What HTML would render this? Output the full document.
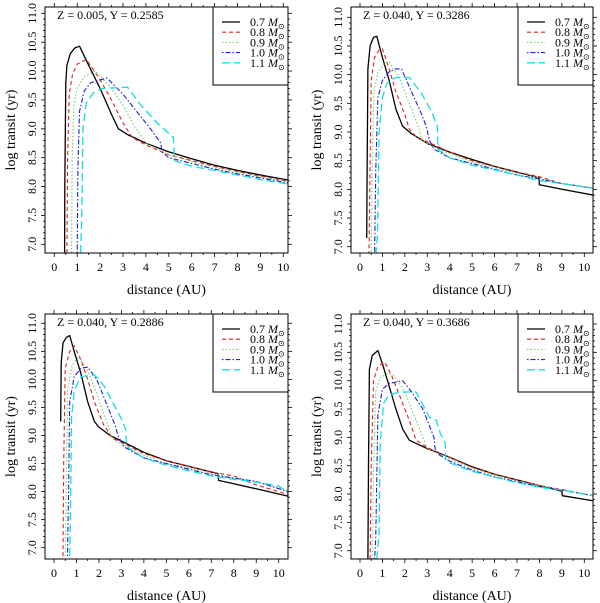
<!DOCTYPE html>
<html><head><meta charset="utf-8"><style>
html,body{margin:0;padding:0;background:#fff;}
svg{display:block;font-family:"Liberation Serif",serif;}
</style></head><body>
<svg id="c" width="600" height="603" viewBox="0 0 600 603" xmlns="http://www.w3.org/2000/svg"></svg>
<script>
const massLabels = ["0.7","0.8","0.9","1.0","1.1"];
const panelTitles = ["Z = 0.005, Y = 0.2585","Z = 0.040, Y = 0.3286","Z = 0.040, Y = 0.2886","Z = 0.040, Y = 0.3686"];
const xTicks = [0,1,2,3,4,5,6,7,8,9,10];
const yTicks = [7.0,7.5,8.0,8.5,9.0,9.5,10.0,10.5,11.0];
const p1m07 = [[0.45,6.85],[0.46,8.0],[0.5,9.8],[0.55,10.1],[0.7,10.3],[0.9,10.4],[1.1,10.43],[1.5,10.1],[2,9.7],[2.5,9.25],[2.8,9.0],[3.2,8.9],[4,8.75],[5,8.6],[6,8.48],[7,8.37],[8,8.28],[9,8.2],[10.4,8.1]];
const p1m08 = [[0.55,6.85],[0.58,8.5],[0.65,9.6],[0.8,9.95],[1.0,10.12],[1.4,10.2],[2,9.85],[2.5,9.5],[3,9.1],[3.4,8.85],[4,8.72],[5,8.55],[6,8.45],[7,8.35],[8,8.26],[9,8.18],[10.4,8.08]];
const p1m09 = [[0.75,6.85],[0.78,8.5],[0.85,9.4],[1.0,9.7],[1.3,9.9],[1.8,10.0],[2.5,9.7],[3,9.4],[3.5,9.05],[4,8.75],[5,8.55],[6,8.43],[7,8.33],[8,8.25],[9,8.17],[10.4,8.07]];
const p1m10 = [[1.0,6.85],[1.03,8.3],[1.1,9.3],[1.3,9.65],[1.6,9.8],[2.3,9.88],[3,9.6],[3.5,9.35],[4.2,9.0],[4.65,8.75],[4.7,8.6],[5,8.5],[6,8.4],[7,8.3],[8,8.22],[9,8.15],[10.4,8.05]];
const p1m11 = [[1.15,6.85],[1.2,7.5],[1.25,9.0],[1.4,9.45],[1.7,9.62],[2.1,9.7],[3.2,9.72],[3.8,9.4],[4.5,9.1],[5.2,8.85],[5.25,8.45],[6,8.35],[7,8.28],[8,8.2],[9,8.12],[10.4,8.03]];
const p2m07 = [[0.3,7.15],[0.32,8.5],[0.35,10.1],[0.45,10.5],[0.6,10.65],[0.75,10.67],[1.0,10.3],[1.3,9.9],[1.6,9.4],[1.9,9.1],[2.3,8.97],[3,8.8],[4,8.65],[5,8.52],[6,8.4],[7,8.3],[7.98,8.2],[8.0,8.08],[9,8.0],[10.4,7.9]];
const p2m08 = [[0.4,6.85],[0.45,8.5],[0.5,9.9],[0.65,10.3],[0.85,10.43],[1.0,10.45],[1.3,10.1],[1.6,9.7],[2,9.3],[2.2,9.05],[2.5,8.92],[3,8.83],[4,8.65],[5,8.5],[6,8.4],[7,8.3],[8,8.22],[9,8.1],[10.4,8.02]];
const p2m09 = [[0.5,6.85],[0.55,8.5],[0.62,9.7],[0.8,10.05],[1.1,10.2],[1.3,10.22],[1.8,9.9],[2.2,9.5],[2.6,9.1],[2.75,8.85],[3,8.8],[4,8.62],[5,8.48],[6,8.38],[7,8.28],[8,8.2],[9,8.1],[10.4,8.02]];
const p2m10 = [[0.65,6.85],[0.7,8.3],[0.8,9.6],[1.0,9.9],[1.3,10.05],[1.6,10.1],[1.85,10.1],[2.3,9.7],[2.7,9.35],[2.95,9.1],[3.1,8.85],[3.3,8.7],[4,8.55],[5,8.45],[6,8.35],[7,8.25],[8,8.18],[9,8.1],[10.4,8.02]];
const p2m11 = [[0.7,6.85],[0.78,7.2],[0.85,9.0],[1.0,9.6],[1.2,9.85],[1.6,9.95],[2.2,9.95],[2.7,9.7],[3.2,9.35],[3.45,9.1],[3.47,8.7],[4,8.55],[5,8.42],[6,8.34],[7,8.25],[8,8.15],[9,8.1],[10.4,8.02]];
const p3m07 = [[0.3,9.25],[0.32,10.3],[0.4,10.65],[0.55,10.75],[0.7,10.78],[0.9,10.5],[1.2,10.1],[1.5,9.6],[1.8,9.25],[2,9.15],[2.5,9.0],[3,8.9],[4,8.7],[5,8.55],[6,8.45],[7,8.35],[7.3,8.32],[7.32,8.2],[8,8.14],[9,8.05],[10.4,7.92]];
const p3m08 = [[0.4,6.85],[0.43,8.5],[0.5,10.2],[0.7,10.5],[0.9,10.6],[1.2,10.35],[1.5,10.0],[1.8,9.6],[2.2,9.2],[2.6,8.95],[3,8.88],[4,8.68],[5,8.55],[6,8.45],[7,8.35],[8,8.28],[9,8.12],[10.4,7.95]];
const p3m09 = [[0.5,6.85],[0.55,8.4],[0.6,9.8],[0.8,10.25],[1.1,10.4],[1.5,10.15],[1.9,9.75],[2.3,9.3],[2.5,9.05],[2.7,8.9],[3,8.85],[4,8.65],[5,8.5],[6,8.42],[7,8.32],[8,8.24],[9,8.18],[10.4,8.02]];
const p3m10 = [[0.6,6.85],[0.65,8.0],[0.7,9.6],[0.9,10.05],[1.2,10.2],[1.5,10.22],[1.9,10.0],[2.3,9.6],[2.7,9.2],[2.85,9.0],[3.1,8.8],[4,8.6],[5,8.5],[6,8.4],[7,8.3],[8,8.24],[9,8.18],[10.4,8.0]];
const p3m11 = [[0.7,6.85],[0.73,7.5],[0.78,9.3],[0.9,9.8],[1.2,10.05],[1.8,10.08],[2.2,9.9],[2.6,9.6],[3.0,9.3],[3.2,9.1],[3.22,8.8],[4,8.6],[5,8.47],[6,8.37],[7,8.28],[8,8.22],[9,8.17],[10,8.1],[10.4,7.98]];
const p4m07 = [[0.35,6.85],[0.38,8.5],[0.42,10.2],[0.55,10.45],[0.8,10.53],[1.0,10.3],[1.3,9.9],[1.6,9.5],[1.9,9.15],[2.2,8.95],[3,8.8],[4,8.65],[5,8.48],[6,8.35],[7,8.25],[8,8.15],[9,8.05],[9.02,7.97],[10.4,7.88]];
const p4m08 = [[0.45,6.85],[0.5,8.5],[0.6,10.0],[0.8,10.25],[1.1,10.33],[1.4,10.1],[1.8,9.7],[2.2,9.3],[2.5,8.95],[3,8.82],[4,8.65],[5,8.47],[6,8.35],[7,8.25],[8,8.15],[9,8.08],[10.4,7.97]];
const p4m09 = [[0.55,6.85],[0.6,8.4],[0.7,9.8],[0.9,10.05],[1.2,10.12],[1.5,10.1],[2.0,9.8],[2.4,9.4],[2.8,9.0],[3.0,8.8],[4,8.62],[5,8.45],[6,8.33],[7,8.23],[8,8.15],[9,8.07],[10.4,7.97]];
const p4m10 = [[0.65,6.85],[0.7,7.2],[0.8,9.4],[1.0,9.85],[1.3,9.95],[1.9,10.0],[2.3,9.8],[2.8,9.5],[3.1,9.2],[3.3,9.0],[3.35,8.8],[3.5,8.7],[4,8.58],[5,8.42],[6,8.3],[7,8.22],[8,8.13],[9,8.07],[10.4,7.97]];
const p4m11 = [[0.75,6.85],[0.85,7.3],[0.9,8.9],[1.05,9.6],[1.3,9.75],[1.8,9.8],[2.5,9.8],[2.9,9.5],[3.1,9.35],[3.4,9.3],[3.6,9.05],[3.8,8.9],[3.82,8.6],[4,8.55],[5,8.4],[6,8.3],[7,8.2],[8,8.12],[9,8.07],[10.4,7.97]];
const panelSeries = [[p1m07,p1m08,p1m09,p1m10,p1m11],[p2m07,p2m08,p2m09,p2m10,p2m11],[p3m07,p3m08,p3m09,p3m10,p3m11],[p4m07,p4m08,p4m09,p4m10,p4m11]];

const NS="http://www.w3.org/2000/svg";
const svg=document.getElementById('c');
const colors=["#000","#e02020","#70d070","#2020d0","#10e0e0"];
const dashes=["","4,3","1.5,2","1.5,2,5,2","8,4"];
const widths=[1.3,1.1,1.1,1.1,1.3];
const geo=[
 {l:45,r:288,t:7,b:253,x0:54.3,x10:283.3,y7:244.3,y11:13.3},
 {l:351,r:593,t:7,b:253,x0:360,x10:584.3,y7:246.7,y11:17.3},
 {l:45,r:288,t:314,b:559,x0:54,x10:278.7,y7:547.7,y11:323.3},
 {l:351,r:593,t:314,b:559,x0:360,x10:584.3,y7:550.7,y11:324}
];
function mk(tag,attrs,parent){const e=document.createElementNS(NS,tag);for(const k in attrs)e.setAttribute(k,attrs[k]);(parent||svg).appendChild(e);return e;}
geo.forEach((g,pi)=>{
 const grp=mk('g',{});
 
 
 const X=v=>g.x0+(g.x10-g.x0)*v/10;
 const Y=v=>g.y7+(g.y11-g.y7)*(v-7)/4;
 const cid='clip'+pi;
 const cp=mk('clipPath',{id:cid},grp);mk('rect',{x:g.l,y:g.t,width:g.r-g.l,height:g.b-g.t},cp);
 const tk=mk('g',{stroke:'#000','stroke-width':0.8},grp);
 
 
 for(let v=0;v<=10.4;v+=0.5){const x=X(v);if(x>g.r)break;const L=(Math.abs(v-Math.round(v))<1e-6)?4:2;
  mk('line',{x1:x,x2:x,y1:g.b,y2:g.b+L},tk);mk('line',{x1:x,x2:x,y1:g.t,y2:g.t-L},tk);}
 for(let v=7;v<=11.01;v+=0.1){const y=Y(v);const maj=Math.abs(v*2-Math.round(v*2))<1e-6;const L=maj?4:2;
  mk('line',{x1:g.l,x2:g.l-L,y1:y,y2:y},tk);mk('line',{x1:g.r,x2:g.r+L,y1:y,y2:y},tk);}
 xTicks.forEach(v=>{const t=mk('text',{x:X(v),y:g.b+18,'font-size':12,'text-anchor':'middle'},grp);t.textContent=v;
  
  });
 yTicks.forEach(v=>{const y=Y(v);const t=mk('text',{x:g.l-9,y:y,'font-size':12,'text-anchor':'middle',transform:`rotate(-90 ${g.l-9} ${y})`},grp);t.textContent=v.toFixed(1);
  
  });
 const xl=mk('text',{x:(g.l+g.r)/2,y:g.b+41,'font-size':14,'text-anchor':'middle'},grp);xl.textContent='distance (AU)';
 
 
 const yc=(g.t+g.b)/2,yx=g.l-30;
 const yl=mk('text',{x:yx,y:yc,'font-size':14,'text-anchor':'middle',transform:`rotate(-90 ${yx} ${yc})`},grp);yl.textContent='log transit (yr)';
 
 
 const sg=mk('g',{'clip-path':`url(#${cid})`,fill:'none'},grp);
 panelSeries[pi].forEach((s,si)=>{
  const p=mk('path',{d:s.map((q,i)=>(i?'L':'M')+X(q[0]).toFixed(1)+','+Y(q[1]).toFixed(1)).join(''),stroke:colors[si],'stroke-width':widths[si],'stroke-dasharray':dashes[si],'stroke-linejoin':'round'},sg);
  
  
 });
 mk('rect',{x:g.l,y:g.t,width:g.r-g.l,height:g.b-g.t,fill:'none',stroke:'#000','stroke-width':1},grp);
 const tt=mk('text',{x:g.l+12,y:g.t+12,'font-size':12},grp);tt.textContent=panelTitles[pi];
 
 
 const lg=mk('g',{},grp);
 
 
 const lx=g.r-75;
 mk('rect',{x:lx,y:g.t,width:75,height:78,fill:'#fff',stroke:'#000','stroke-width':1},lg);
 massLabels.forEach((m,si)=>{const y=g.t+15+si*10.2;
  const ln=mk('line',{x1:lx+9,x2:lx+27,y1:y,y2:y,stroke:colors[si],'stroke-width':widths[si],'stroke-dasharray':dashes[si]},lg);
  
  
  const t=mk('text',{x:lx+37,y:y+4,'font-size':12},lg);
  t.innerHTML=m+' <tspan font-style="italic">M</tspan><tspan font-size="8" dy="3">⊙</tspan>';
  
  
 });
});
</script>
</body></html>
